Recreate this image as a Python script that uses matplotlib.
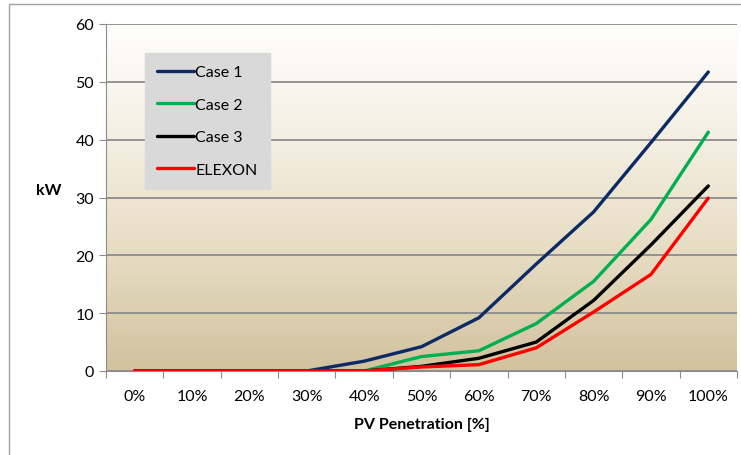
import numpy as np
import matplotlib
matplotlib.use("Agg")
from matplotlib import pyplot as plt
from matplotlib.colors import LinearSegmentedColormap
from matplotlib.patches import Rectangle

# dane
categories = ["0%", "10%", "20%", "30%", "40%", "50%", "60%", "70%", "80%", "90%", "100%"]
case1 = [0, 0, 0, 0, 1.7, 4.2, 9.2, 18.5, 27.5, 39.5, 51.7]
case2 = [0, 0, 0, 0, 0, 2.5, 3.5, 8.2, 15.5, 26.2, 41.3]
case3 = [0, 0, 0, 0, 0, 0.8, 2.2, 5.0, 12.2, 21.8, 32.0]
elexon = [0, 0, 0, 0, 0, 0.7, 1.1, 4.0, 10.2, 16.7, 29.9]
series_names = ["Case 1", "Case 2", "Case 3", "ELEXON"]
series_colors = ["#0d2a66", "#00b050", "#000000", "#ff0000"]

plt.rcParams['font.family'] = ['Lato', 'DejaVu Sans']

fig = plt.figure(figsize=(7.41, 4.56), dpi=100)
fig.patch.set_facecolor("white")
# ramka wykresu
fig.patches.append(Rectangle((9/741, -0.05), 1.0, 1 - 5/456 + 0.05, transform=fig.transFigure,
                             fill=False, edgecolor="#a0a0a0", linewidth=1.0))

ax = fig.add_axes([106/741, 1 - 372/456, (737 - 106)/741, (372 - 25)/456])

# gradient tla
cmap = LinearSegmentedColormap.from_list("bg", ["#fefefd", "#f4efe2", "#e6dcc2", "#d2c29e"])
grad = np.linspace(0, 1, 256).reshape(-1, 1)
ax.imshow(grad, cmap=cmap, aspect="auto", extent=[0, 1, 0, 1], transform=ax.transAxes, zorder=0)

x = np.arange(len(categories))
for vals, name, col in zip([case1, case2, case3, elexon], series_names, series_colors):
    ax.plot(x, vals, color=col, linewidth=2.4, label=name, zorder=3, solid_capstyle="round")

ax.set_xlim(-0.5, len(categories) - 0.5)
ax.set_ylim(0, 60)
ax.set_yticks(range(0, 61, 10))
ax.yaxis.grid(True, color="#8c8c8c", linewidth=1.3)
ax.set_axisbelow(True)
for gl in ax.get_ygridlines():
    gl.set_zorder(1)

ax.set_xticks(np.arange(-0.5, len(categories), 1.0))
ax.set_xticklabels([])
ax.set_xticks(x, minor=True)
ax.set_xticklabels(categories, minor=True)
ax.tick_params(axis="x", which="major", direction="out", length=5, color="#8c8c8c")
ax.tick_params(axis="x", which="minor", length=0, pad=13, labelsize=11.5)
ax.tick_params(axis="y", direction="out", length=5, color="#8c8c8c", labelsize=11.5)

for s in ["top", "right"]:
    ax.spines[s].set_visible(False)
ax.spines["left"].set_color("#8c8c8c")
ax.spines["bottom"].set_color("#8c8c8c")

ax.set_xlabel("PV Penetration [%]", fontsize=11.5, fontweight="bold", labelpad=10)
ax.set_ylabel("kW", fontsize=11.5, fontweight="bold", rotation=0, labelpad=8)
ax.yaxis.set_label_coords(-0.09, 0.5)

leg = ax.legend(loc="upper left", bbox_to_anchor=(39/631, 1 - 29/347), frameon=True,
                fancybox=False, facecolor="#d9d9d9", edgecolor="#d9d9d9", framealpha=1,
                handlelength=2.3, handletextpad=0.1, labelspacing=1.15, fontsize=11.5,
                borderpad=0.75, borderaxespad=0)
leg.set_zorder(5)

plt.savefig("out.png", dpi=100)
plt.close()
